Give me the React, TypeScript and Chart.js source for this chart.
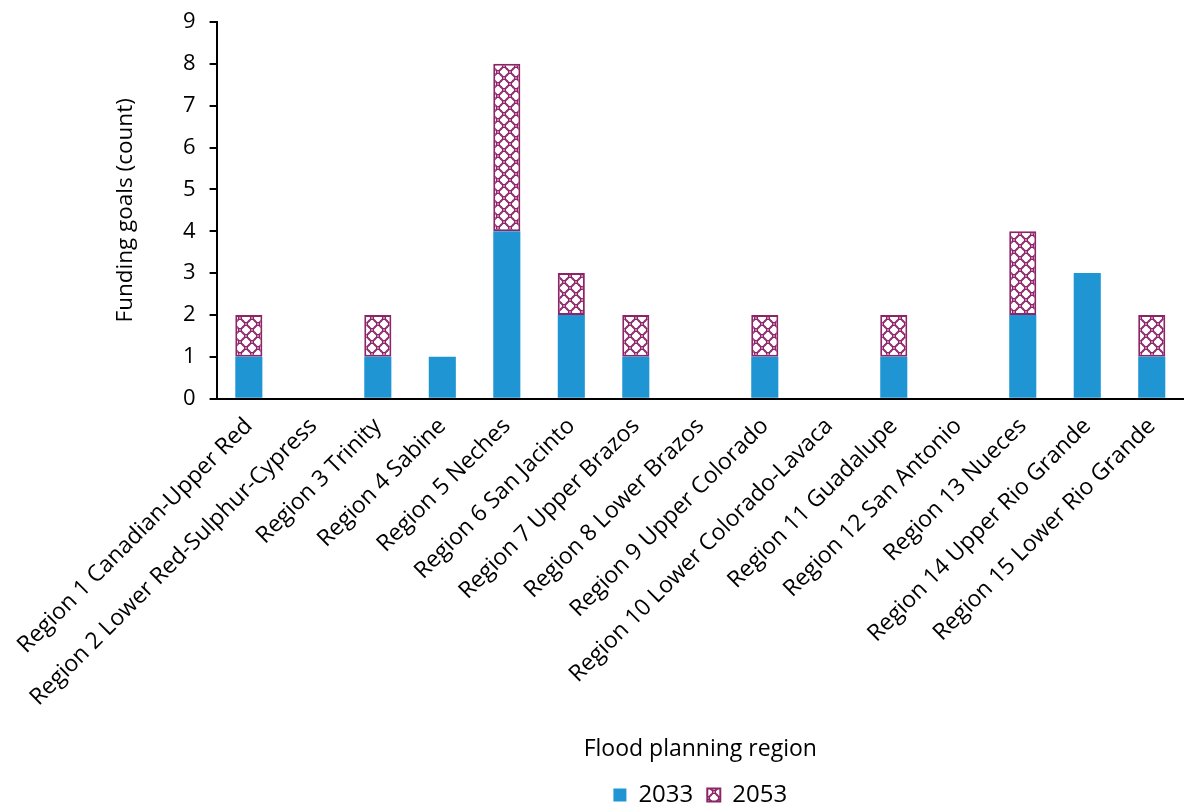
import React, { useEffect, useRef } from "react";
import { Chart, registerables } from "chart.js";

Chart.register(...registerables);

const regions: string[] = [
  "Region 1 Canadian-Upper Red",
  "Region 2 Lower Red-Sulphur-Cypress",
  "Region 3 Trinity",
  "Region 4 Sabine",
  "Region 5 Neches",
  "Region 6 San Jacinto",
  "Region 7 Upper Brazos",
  "Region 8 Lower Brazos",
  "Region 9 Upper Colorado",
  "Region 10 Lower Colorado-Lavaca",
  "Region 11 Guadalupe",
  "Region 12 San Antonio",
  "Region 13 Nueces",
  "Region 14 Upper Rio Grande",
  "Region 15 Lower Rio Grande",
];

const goals2033: number[] = [1, 0, 1, 1, 4, 2, 1, 0, 1, 0, 1, 0, 2, 3, 1];
const goals2053: number[] = [1, 0, 1, 0, 4, 1, 1, 0, 1, 0, 1, 0, 2, 0, 1];

const yTicks: number[] = [0, 1, 2, 3, 4, 5, 6, 7, 8, 9];

const BLUE = "#1f96d3";
const PURPLE = "#8c2467";
const FONT = "'Open Sans', 'DejaVu Sans', sans-serif";

// Lattice fill for the 2053 series: rings on a diagonal grid, touching
// their neighbours so the outlines cross in small X shapes.
function makeLattice(): CanvasPattern | string {
  const size = 12;
  const tile = document.createElement("canvas");
  tile.width = size;
  tile.height = size;
  const ctx = tile.getContext("2d");
  if (!ctx) return "#ffffff";
  ctx.fillStyle = "#ffffff";
  ctx.fillRect(0, 0, size, size);
  ctx.strokeStyle = PURPLE;
  ctx.lineWidth = 1.4;
  const r = 4.7;
  const centres = [
    [size / 2, size / 2],
    [0, 0],
    [size, 0],
    [0, size],
    [size, size],
  ];
  for (const [cx, cy] of centres) {
    ctx.beginPath();
    ctx.arc(cx, cy, r, 0, Math.PI * 2);
    ctx.stroke();
  }
  const p = document.createElement("canvas").getContext("2d")!.createPattern(tile, "repeat");
  return p || "#ffffff";
}

export default function App() {
  const canvasRef = useRef<HTMLCanvasElement | null>(null);

  useEffect(() => {
    if (!canvasRef.current) return;
    Chart.defaults.font.family = FONT;
    Chart.defaults.color = "#000";
    const lattice = makeLattice();

    const chart = new Chart(canvasRef.current, {
      type: "bar",
      data: {
        labels: regions,
        datasets: [
          {
            label: "2033",
            data: goals2033,
            backgroundColor: BLUE,
            borderWidth: 0,
          },
          {
            label: "2053",
            data: goals2053,
            backgroundColor: lattice as any,
            borderColor: PURPLE,
            borderWidth: 2,
            borderSkipped: false,
          },
        ],
      },
      options: {
        animation: false,
        responsive: true,
        maintainAspectRatio: false,
        layout: { padding: { left: 112, top: 22, right: 0, bottom: -11 } },
        datasets: {
          bar: { categoryPercentage: 1, barPercentage: 0.42 },
        },
        plugins: {
          tooltip: { enabled: false },
          legend: {
            position: "bottom",
            fullSize: false,
            labels: {
              font: { size: 24 },
              color: "#000",
              boxWidth: 13,
              boxHeight: 13,
              padding: 14,
            },
          },
        },
        scales: {
          x: {
            stacked: true,
            grid: { display: false },
            border: { display: true, color: "#000", width: 2 },
            ticks: {
              autoSkip: false,
              maxRotation: 45,
              minRotation: 45,
              padding: 6,
              font: { size: 23 },
              color: "#000",
            },
            title: {
              display: true,
              text: "Flood planning region",
              font: { size: 23 },
              color: "#000",
              padding: { top: 18, bottom: 6 },
            },
          },
          y: {
            stacked: true,
            min: 0,
            max: 9,
            afterBuildTicks: (scale: any) => {
              scale.ticks = yTicks.map((v) => ({ value: v }));
            },
            grid: {
              drawOnChartArea: false,
              drawTicks: true,
              tickLength: 7,
              color: "#000",
              lineWidth: 2,
            },
            border: { display: true, color: "#000", width: 2 },
            ticks: {
              padding: 14,
              font: { size: 22, lineHeight: 0.1 },
              color: "#000",
            },
            title: {
              display: true,
              text: "Funding goals (count)",
              font: { size: 22.5 },
              color: "#000",
              padding: { top: 0, bottom: 30 },
            },
          },
        },
      },
    });

    return () => chart.destroy();
  }, []);

  return (
    <div style={{ position: "fixed", left: 0, top: 0, width: 1184, height: 806, background: "#fff" }}>
      <canvas ref={canvasRef} />
    </div>
  );
}
